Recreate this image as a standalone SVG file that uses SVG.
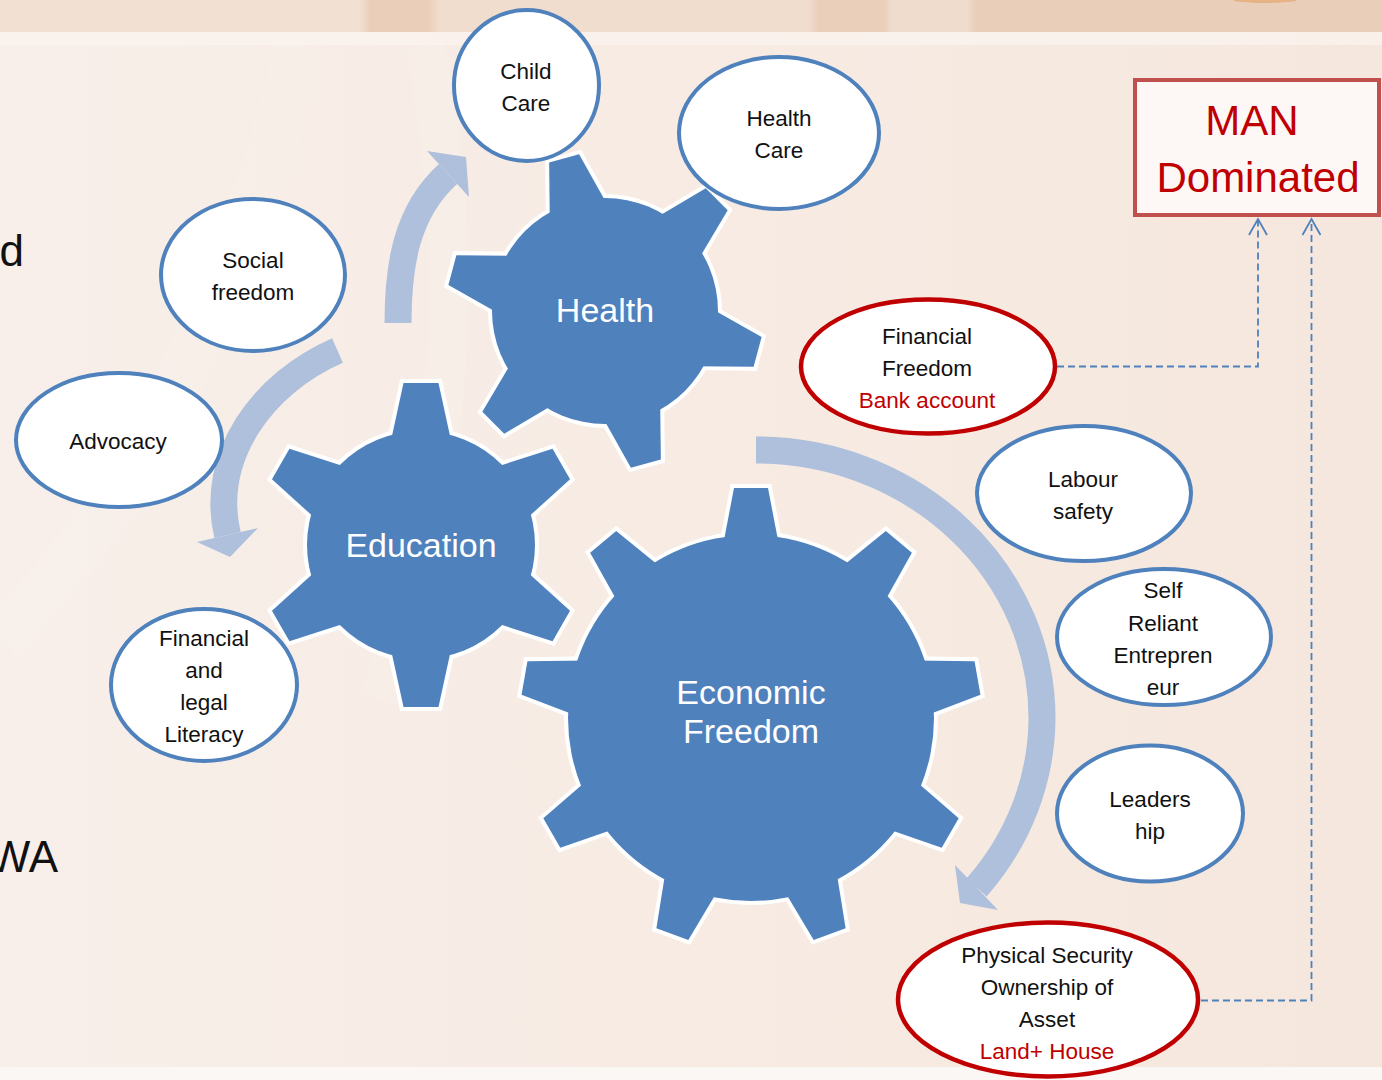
<svg xmlns="http://www.w3.org/2000/svg" xmlns:xlink="http://www.w3.org/1999/xlink" width="1382" height="1080" viewBox="0 0 1382 1080">
  <style>
    .lbl { font-family: "Liberation Sans", Arial, sans-serif; font-size: 22.5px; fill: #111; text-anchor: middle; }
    .red { fill: #C00000; }
    .gtxt { font-family: "Liberation Sans", Arial, sans-serif; font-size: 34px; fill: #FFFFFF; text-anchor: middle; }
    .big { font-family: "Liberation Sans", Arial, sans-serif; font-size: 42px; fill: #C00000; text-anchor: middle; }
    .side { font-family: "Liberation Sans", Arial, sans-serif; font-size: 44px; fill: #111; }
    .oval { fill: #FFFFFF; stroke: #4F81BD; stroke-width: 4; }
    .oval-red { fill: #FFFFFF; stroke: #C00000; stroke-width: 4.5; }
    .gear-edge { fill: #FFFFFF; stroke: #FFFFFF; stroke-width: 8; stroke-linejoin: miter; }
    .gear-face { fill: #4F81BD; stroke: none; }
    .flow { fill: none; stroke: #AFC0DC; stroke-width: 27; stroke-linecap: butt; }
    .flow-head { fill: #AFC0DC; }
    .dash { fill: none; stroke: #4F81BD; stroke-width: 1.8; stroke-dasharray: 7 4; }
  </style>
  <defs>
    <linearGradient id="bg" x1="0" y1="0" x2="1" y2="0">
      <stop offset="0" stop-color="#F8EFEA"/>
      <stop offset="0.5" stop-color="#F7EBE3"/>
      <stop offset="1" stop-color="#F5E7DD"/>
    </linearGradient>
    <linearGradient id="band" x1="0" y1="0" x2="1" y2="0">
      <stop offset="0" stop-color="#F2E0D3"/>
      <stop offset="0.26" stop-color="#F2E0D3"/>
      <stop offset="0.268" stop-color="#EACEB9"/>
      <stop offset="0.31" stop-color="#EACEB9"/>
      <stop offset="0.318" stop-color="#F0DDCE"/>
      <stop offset="0.585" stop-color="#F0DDCE"/>
      <stop offset="0.592" stop-color="#EACFBB"/>
      <stop offset="0.64" stop-color="#EACFBB"/>
      <stop offset="0.645" stop-color="#EFDCCD"/>
      <stop offset="0.7" stop-color="#EFDCCD"/>
      <stop offset="0.706" stop-color="#E9CFBA"/>
      <stop offset="1" stop-color="#E9CEB9"/>
    </linearGradient>
    <marker id="openArrow" markerUnits="userSpaceOnUse" viewBox="-20 -12 24 24" refX="0" refY="0" markerWidth="24" markerHeight="24" orient="auto">
      <path d="M-16,-9 L0,0 L-16,9" fill="none" stroke="#4F81BD" stroke-width="1.8"/>
    </marker>
    <!-- gear teeth, pointing up, centred on the gear hub -->
    <polygon id="toothEcon" points="-17,-230 17,-230 28.5,-170 -28.5,-170"/>
    <polygon id="toothHealth" points="-15.5,-158 15.5,-158 30.3,-100 -30.3,-100"/>
    <polygon id="toothEdu" points="-17.5,-162 17.5,-162 31,-100 -31,-100"/>
    <g id="gearEcon">
      <circle r="183"/>
      <use xlink:href="#toothEcon"/>
      <use xlink:href="#toothEcon" transform="rotate(40)"/>
      <use xlink:href="#toothEcon" transform="rotate(80)"/>
      <use xlink:href="#toothEcon" transform="rotate(120)"/>
      <use xlink:href="#toothEcon" transform="rotate(160)"/>
      <use xlink:href="#toothEcon" transform="rotate(200)"/>
      <use xlink:href="#toothEcon" transform="rotate(240)"/>
      <use xlink:href="#toothEcon" transform="rotate(280)"/>
      <use xlink:href="#toothEcon" transform="rotate(320)"/>
    </g>
    <g id="gearHealth">
      <circle r="113"/>
      <use xlink:href="#toothHealth" transform="rotate(-15)"/>
      <use xlink:href="#toothHealth" transform="rotate(45)"/>
      <use xlink:href="#toothHealth" transform="rotate(105)"/>
      <use xlink:href="#toothHealth" transform="rotate(165)"/>
      <use xlink:href="#toothHealth" transform="rotate(225)"/>
      <use xlink:href="#toothHealth" transform="rotate(285)"/>
    </g>
    <g id="gearEdu">
      <circle r="114"/>
      <use xlink:href="#toothEdu"/>
      <use xlink:href="#toothEdu" transform="rotate(60)"/>
      <use xlink:href="#toothEdu" transform="rotate(120)"/>
      <use xlink:href="#toothEdu" transform="rotate(180)"/>
      <use xlink:href="#toothEdu" transform="rotate(240)"/>
      <use xlink:href="#toothEdu" transform="rotate(300)"/>
    </g>
  </defs>

  <!-- slide background -->
  <g id="background">
    <rect width="1382" height="1080" fill="url(#bg)"/>
    <rect width="1382" height="32" fill="url(#band)"/>
    <ellipse cx="1265" cy="0" rx="32" ry="3" fill="#E8B287"/>
    <rect y="32" width="1382" height="13" fill="#FAF3EE" opacity="0.8"/>
    <path d="M425,45 C465,250 455,470 380,700" fill="none" stroke="#FFFFFF" stroke-width="40" opacity="0.1"/>
    <path d="M300,45 C240,300 120,520 0,640" fill="none" stroke="#FFFFFF" stroke-width="50" opacity="0.08"/>
    <path d="M890,45 C910,300 890,520 830,760" fill="none" stroke="#FFFFFF" stroke-width="36" opacity="0.08"/>
    <rect y="1067" width="1382" height="13" fill="#FBF7F4"/>
    <text class="side" x="24" y="266" text-anchor="end">d</text>
    <text class="side" x="58" y="872" text-anchor="end">WA</text>
  </g>

  <!-- rotating flow arrows and dashed links -->
  <g id="connectors">
    <path class="flow" d="M398,323 C398,266 406,212 448,174"/>
    <polygon class="flow-head" points="427,151 469,197 466,157"/>
    <path class="flow" d="M337.5,350.5 C263,383 209,456 227.5,535"/>
    <polygon class="flow-head" points="197,542 258,528 230,557"/>
    <path class="flow" d="M756,450 A286,268 0 0 1 1042,718 A286,268 0 0 1 976.5,887.5"/>
    <polygon class="flow-head" points="955,865 998,910 960,903"/>
    <path class="dash" d="M1057,366.5 H1258 V219" marker-end="url(#openArrow)"/>
    <path class="dash" d="M1201,1000.5 H1311.5 V219" marker-end="url(#openArrow)"/>
  </g>

  <!-- gears -->
  <g id="gear-education">
    <use xlink:href="#gearEdu" class="gear-edge" transform="translate(421,545)"/>
    <use xlink:href="#gearEdu" class="gear-face" transform="translate(421,545)"/>
    <text class="gtxt" x="421" y="557">Education</text>
  </g>
  <g id="gear-health">
    <use xlink:href="#gearHealth" class="gear-edge" transform="translate(605,311)"/>
    <use xlink:href="#gearHealth" class="gear-face" transform="translate(605,311)"/>
    <text class="gtxt" x="605" y="322">Health</text>
  </g>
  <g id="gear-economic">
    <use xlink:href="#gearEcon" class="gear-edge" transform="translate(751,718)"/>
    <use xlink:href="#gearEcon" class="gear-face" transform="translate(751,718)"/>
    <text class="gtxt" x="751" y="704">Economic</text>
    <text class="gtxt" x="751" y="743">Freedom</text>
  </g>

  <!-- outcome ovals -->
  <g id="child-care">
    <ellipse class="oval" cx="526.5" cy="85.5" rx="72.5" ry="75.5"/>
    <text class="lbl" x="526" y="79">Child</text>
    <text class="lbl" x="526" y="111">Care</text>
  </g>
  <g id="health-care">
    <ellipse class="oval" cx="779" cy="133" rx="100" ry="76"/>
    <text class="lbl" x="779" y="126">Health</text>
    <text class="lbl" x="779" y="158">Care</text>
  </g>
  <g id="social-freedom">
    <ellipse class="oval" cx="253" cy="275" rx="92" ry="76"/>
    <text class="lbl" x="253" y="268">Social</text>
    <text class="lbl" x="253" y="300">freedom</text>
  </g>
  <g id="advocacy">
    <ellipse class="oval" cx="119" cy="440" rx="103" ry="67"/>
    <text class="lbl" x="118" y="449">Advocacy</text>
  </g>
  <g id="literacy">
    <ellipse class="oval" cx="204" cy="685" rx="93" ry="76"/>
    <text class="lbl" x="204" y="646">Financial</text>
    <text class="lbl" x="204" y="678">and</text>
    <text class="lbl" x="204" y="710">legal</text>
    <text class="lbl" x="204" y="742">Literacy</text>
  </g>
  <g id="financial-freedom">
    <ellipse class="oval-red" cx="928" cy="366.5" rx="127" ry="67"/>
    <text class="lbl" x="927" y="344">Financial</text>
    <text class="lbl" x="927" y="376">Freedom</text>
    <text class="lbl red" x="927" y="408">Bank account</text>
  </g>
  <g id="labour-safety">
    <ellipse class="oval" cx="1084" cy="493.5" rx="107" ry="67.5"/>
    <text class="lbl" x="1083" y="487">Labour</text>
    <text class="lbl" x="1083" y="519">safety</text>
  </g>
  <g id="self-reliant">
    <ellipse class="oval" cx="1164" cy="637" rx="107" ry="68"/>
    <text class="lbl" x="1163" y="598">Self</text>
    <text class="lbl" x="1163" y="631">Reliant</text>
    <text class="lbl" x="1163" y="663">Entrepren</text>
    <text class="lbl" x="1163" y="695">eur</text>
  </g>
  <g id="leadership">
    <ellipse class="oval" cx="1150" cy="813.5" rx="93" ry="68"/>
    <text class="lbl" x="1150" y="807">Leaders</text>
    <text class="lbl" x="1150" y="839">hip</text>
  </g>
  <g id="physical-security">
    <ellipse class="oval-red" cx="1048" cy="999.5" rx="150" ry="77"/>
    <text class="lbl" x="1047" y="963">Physical Security</text>
    <text class="lbl" x="1047" y="995">Ownership of</text>
    <text class="lbl" x="1047" y="1027">Asset</text>
    <text class="lbl red" x="1047" y="1059">Land+ House</text>
  </g>

  <!-- dominance box -->
  <g id="man-dominated">
    <rect x="1135" y="80" width="244" height="135" fill="#FDF8F5" stroke="#C0504D" stroke-width="4"/>
    <text class="big" x="1252" y="135">MAN</text>
    <text class="big" x="1258" y="192">Dominated</text>
  </g>
</svg>
